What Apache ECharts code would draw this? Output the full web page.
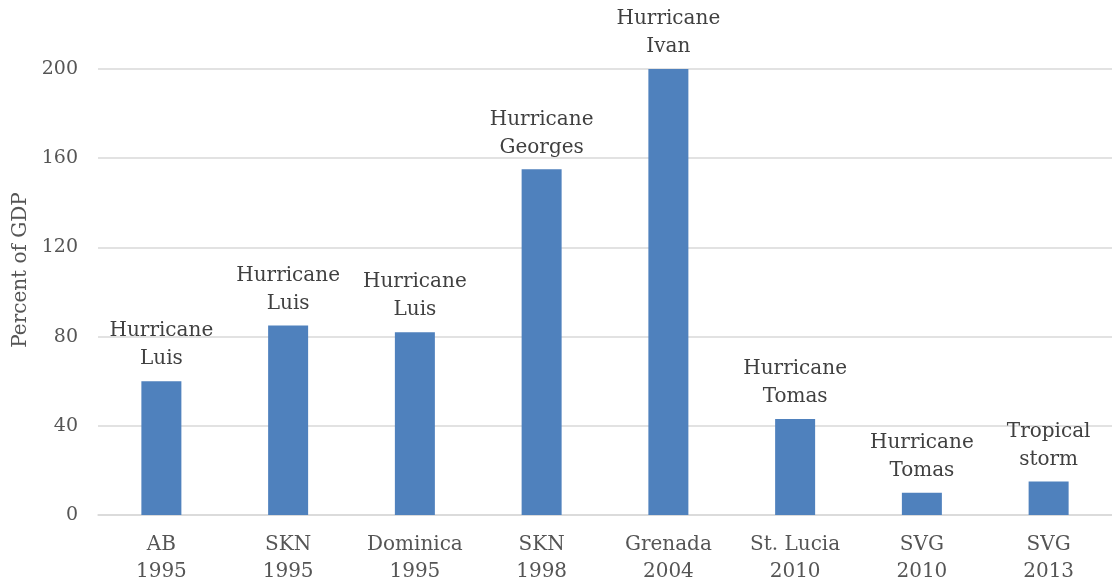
<!DOCTYPE html>
<html lang="en">
<head>
  <meta charset="UTF-8">
  <title>Damage from storms, percent of GDP</title>
  <style>
    * { box-sizing: border-box; margin: 0; padding: 0; }
    body { background: #fff; }
    #chart { width: 1112px; height: 585px; }
  </style>
  <script src="https://cdn.jsdelivr.net/npm/echarts@6/dist/echarts.min.js"></script>
</head>
<body>
  <div id="chart"></div>
  <script>
    // categories (country + year) and storm names
    const categories = ['AB\n1995', 'SKN\n1995', 'Dominica\n1995', 'SKN\n1998',
      'Grenada\n2004', 'St. Lucia\n2010', 'SVG\n2010', 'SVG\n2013'];
    const storms = ['Hurricane\nLuis', 'Hurricane\nLuis', 'Hurricane\nLuis', 'Hurricane\nGeorges',
      'Hurricane\nIvan', 'Hurricane\nTomas', 'Hurricane\nTomas', 'Tropical\nstorm'];
    const values = [60, 85, 82, 155, 200, 43, 10, 15];
    const yTicks = { min: 0, max: 200, interval: 40 };

    const font = 'DejaVu Serif';
    const chart = echarts.init(document.getElementById('chart'));
    chart.setOption({
      animation: false,
      grid: { left: 98, top: 69, width: 1023, height: 447 },
      xAxis: {
        type: 'category',
        data: categories,
        axisLine: { lineStyle: { color: '#d9d9d9', width: 1.5 } },
        axisTick: { show: false },
        axisLabel: { color: '#555555', fontFamily: font, fontSize: 20, lineHeight: 27, margin: 16, interval: 0 }
      },
      yAxis: {
        type: 'value',
        min: yTicks.min, max: yTicks.max, interval: yTicks.interval,
        name: 'Percent of GDP',
        nameLocation: 'middle',
        nameGap: 64,
        nameTextStyle: { color: '#555555', fontFamily: font, fontSize: 20, padding: [0, 0, 0, 44] },
        axisLine: { show: false },
        axisTick: { show: false },
        axisLabel: { color: '#555555', fontFamily: font, fontSize: 19, margin: 20 },
        splitLine: { lineStyle: { color: '#d9d9d9', width: 1.5 } }
      },
      series: [{
        type: 'bar',
        data: values,
        barWidth: 40,
        itemStyle: { color: '#4f81bd' },
        label: {
          show: true,
          position: 'top',
          distance: 8,
          formatter: p => storms[p.dataIndex],
          color: '#404040',
          fontFamily: font,
          fontSize: 20,
          lineHeight: 28
        }
      }]
    });
  </script>
</body>
</html>
